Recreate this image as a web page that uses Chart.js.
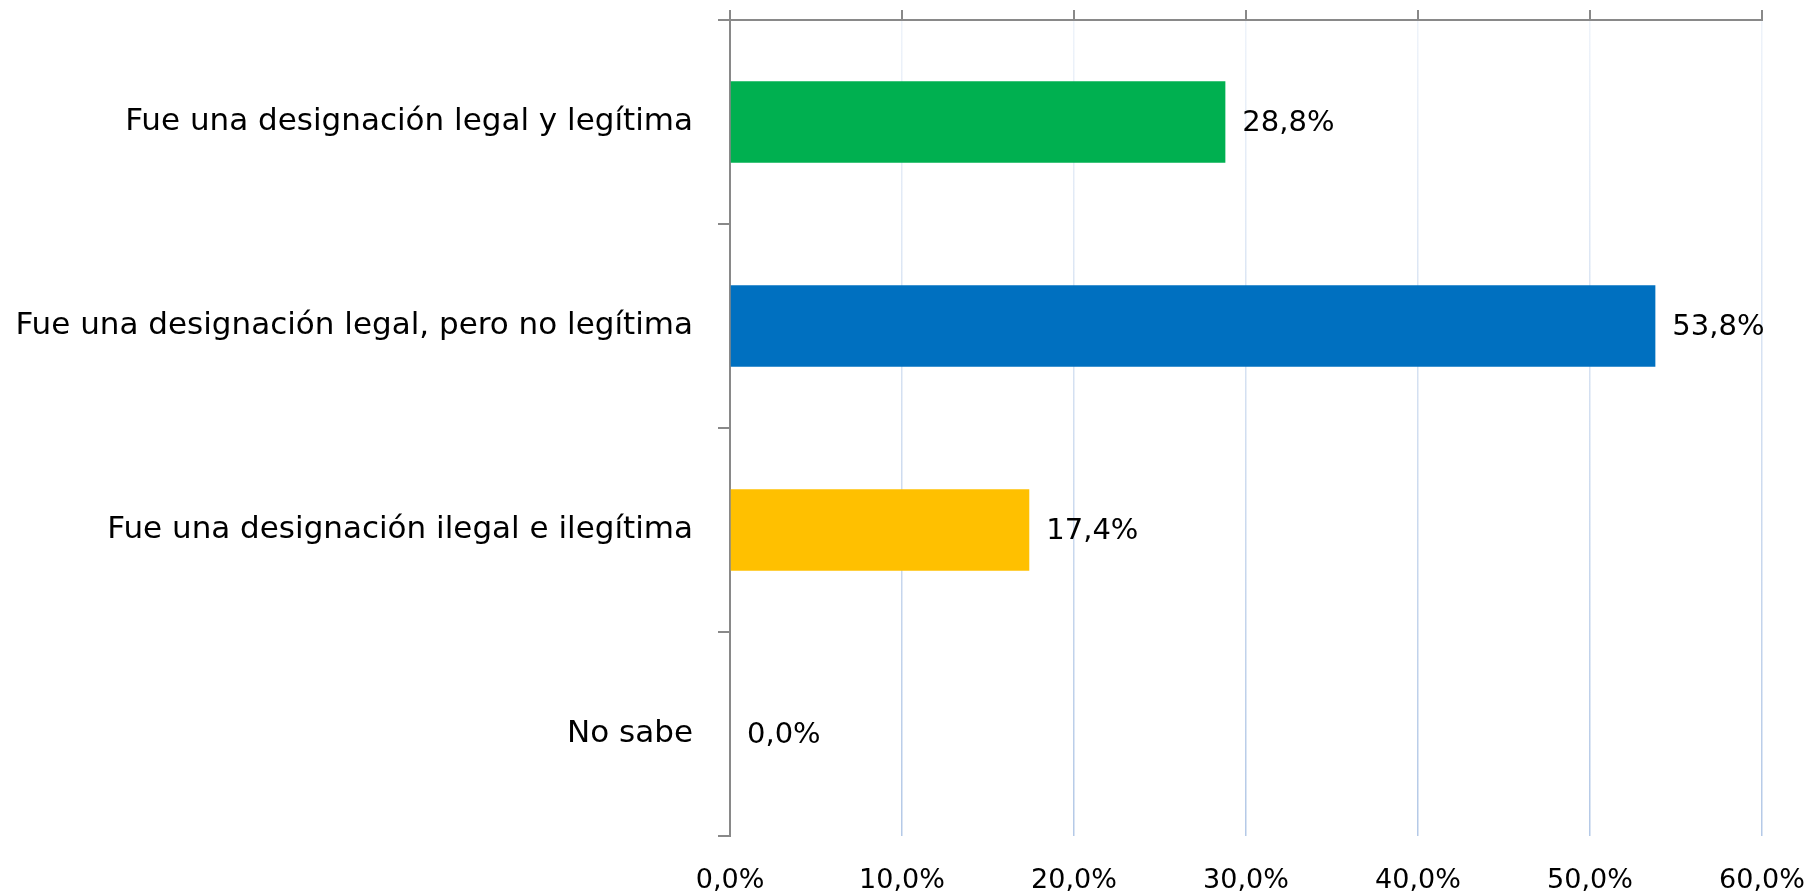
<!DOCTYPE html>
<html>
<head>
<meta charset="utf-8">
<script src="https://cdn.jsdelivr.net/npm/chart.js@4.4.1/dist/chart.umd.min.js"></script>
<style>
  html, body { margin: 0; padding: 0; background: #ffffff; }
  #wrap { width: 1811px; height: 895px; }
</style>
</head>
<body>
<div id="wrap"><canvas id="grafico"></canvas></div>
<script>
const categorias = [
    'Fue una designación legal y legítima',
    'Fue una designación legal, pero no legítima',
    'Fue una designación ilegal e ilegítima',
    'No sabe'
];
const porcentajes = [28.8, 53.8, 17.4, 0.0];
const coloresBarras = ['#00B050', '#0070C0', '#FFC000', '#A5A5A5'];
const ejeMin = 0;
const ejeMax = 60;
const ejePaso = 10;

const familia = 'DejaVu Sans';

function formato(v) {
    return v.toFixed(1).replace('.', ',') + '%';
}

// etiquetas de valor a la derecha de cada barra
const etiquetasValor = {
    id: 'etiquetasValor',
    afterDatasetsDraw(chart) {
        const c = chart.ctx;
        const meta = chart.getDatasetMeta(0);
        c.save();
        c.font = '29px ' + familia;
        c.fillStyle = '#000000';
        c.textAlign = 'left';
        c.textBaseline = 'middle';
        meta.data.forEach((barra, i) => {
            c.fillText(formato(porcentajes[i]), barra.x + 17, barra.y + 1);
        });
        c.restore();
    }
};

function colorRejilla(context) {
    const chart = context.chart;
    const area = chart.chartArea;
    if (!area) return '#c6d6ec';
    const g = chart.ctx.createLinearGradient(0, area.top, 0, area.bottom);
    g.addColorStop(0, '#eef3fa');
    g.addColorStop(1, '#b4c9e7');
    return g;
}

function sinRelleno(eje) {
    eje.paddingTop = 0;
    eje.paddingBottom = 0;
    eje.paddingLeft = 0;
    eje.paddingRight = 0;
}

const ctx = document.getElementById('grafico').getContext('2d');
const chart = new Chart(ctx, {
    type: 'bar',
    data: {
        labels: categorias,
        datasets: [{
            data: porcentajes,
            backgroundColor: coloresBarras,
            borderWidth: 0,
            categoryPercentage: 0.4,
            barPercentage: 1.0,
            xAxisID: 'x',
            yAxisID: 'y'
        }]
    },
    options: {
        indexAxis: 'y',
        responsive: true,
        maintainAspectRatio: false,
        animation: false,
        layout: { padding: { left: 0, right: 49, top: 0, bottom: 0 } },
        plugins: {
            legend: { display: false },
            tooltip: { enabled: false }
        },
        scales: {
            x: {
                position: 'bottom',
                min: ejeMin,
                max: ejeMax,
                ticks: {
                    stepSize: ejePaso,
                    color: '#000000',
                    font: { family: familia, size: 27 },
                    padding: 29,
                    callback: (v) => formato(v)
                },
                grid: {
                    color: colorRejilla,
                    lineWidth: 1.5,
                    drawTicks: false
                },
                border: { display: false },
                afterFit: (eje) => { eje.height = 59; sinRelleno(eje); }
            },
            x2: {
                position: 'top',
                min: ejeMin,
                max: ejeMax,
                ticks: { display: false, stepSize: ejePaso },
                grid: {
                    drawOnChartArea: false,
                    drawTicks: true,
                    tickLength: 10,
                    color: '#898989',
                    lineWidth: 2
                },
                border: { display: true, color: '#898989', width: 2 },
                afterFit: (eje) => { eje.height = 20; sinRelleno(eje); }
            },
            y: {
                position: 'left',
                ticks: {
                    color: '#000000',
                    font: { family: familia, size: 31 },
                    padding: 25
                },
                grid: {
                    drawOnChartArea: false,
                    drawTicks: true,
                    tickLength: 12,
                    color: '#898989',
                    lineWidth: 2,
                    offset: true
                },
                border: { display: true, color: '#898989', width: 2 },
                afterFit: (eje) => { eje.width = 730; sinRelleno(eje); }
            }
        }
    },
    plugins: [etiquetasValor]
});
</script>
</body>
</html>
